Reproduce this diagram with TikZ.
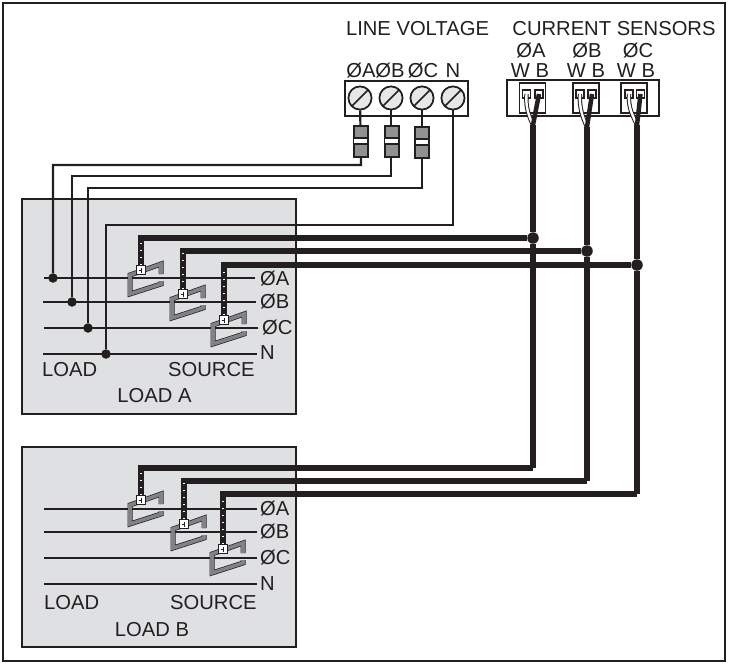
\documentclass[tikz,border=0pt]{standalone}
\usepackage{fontspec}
\setmainfont{Liberation Sans}
\definecolor{ink}{HTML}{231F20}
\definecolor{boxgray}{HTML}{DFE0E2}
\definecolor{screwgray}{HTML}{E6E7E8}
\definecolor{fusegray}{HTML}{8F9193}
\definecolor{clampgray}{HTML}{808285}
\tikzstyle{frame}=[draw=ink,fill=white,line width=2.5pt,inner sep=0pt]
\tikzstyle{loadbox}=[draw=ink,fill=boxgray,line width=2pt,inner sep=0pt]
\tikzstyle{block}=[draw=ink,fill=white,line width=1.8pt,inner sep=0pt]
\tikzstyle{label}=[inner sep=0pt,text=ink,font=\fontsize{20.2}{22}\selectfont]
\tikzstyle{screw}=[circle,draw=ink,fill=screwgray,line width=1.6pt,minimum size=23pt,inner sep=0pt,
    path picture={\draw[ink,line width=1.6pt] (path picture bounding box.south west)--(path picture bounding box.north east);}]
\tikzstyle{fuse}=[draw=ink,fill=fusegray,line width=2pt,minimum width=14pt,minimum height=31pt,inner sep=0pt]
\tikzstyle{fuseband}=[draw=ink,fill=white,line width=1.8pt,minimum width=14pt,minimum height=6.5pt,inner sep=0pt]
\tikzstyle{wire}=[ink,line width=2.2pt]
\tikzstyle{phase}=[ink,line width=2.4pt]
\tikzstyle{cable}=[ink,line width=6.8pt]
\tikzstyle{dot}=[circle,fill=ink,minimum size=9.5pt,inner sep=0pt]
\tikzstyle{socket}=[draw=ink,fill=white,line width=1.5pt,inner sep=0pt]
\tikzstyle{pin}=[draw=ink,fill=white,line width=1.5pt,minimum size=8pt,inner sep=0pt]
\tikzstyle{ctterm}=[draw=ink,fill=white,line width=.9pt,minimum size=8.5pt,inner sep=0pt]
\tikzstyle{ctframe}=[draw=ink,double=clampgray,double distance=3.6pt,line width=.7pt]
\tikzstyle{twist}=[white,line width=2pt,dash pattern=on 1pt off 6pt]
% clamp around a phase line, #1 names its terminal
\newcommand{\ctclamp}[2]{
    \begin{scope}[shift={(#2)}]
        \draw[ctframe] (20,4) -- (20,-6) -- (-11,5) -- (-11,24) -- (20,14) -- (20,11);
    \end{scope}
    \node[ctterm] (#1) at (#2) {};
}
% mark on a terminal
\newcommand{\ctmark}[1]{
    \node[ctterm] at (#1) {};
    \draw[ink,line width=1pt] (#1.center) ++(.5,-2.5) -- ++(0,5) (#1.center) ++(-2.2,0) -- ++(2.5,0);
}
% sensor leads, #1 white pin, #2 black pin, #3 joint
\newcommand{\leads}[3]{
    \draw[ink,line width=4.4pt] (#1.center) .. controls +(-1,14) and +(-4,-9) .. (#3);
    \draw[white,line width=2.4pt] (#1.center) .. controls +(-1,14) and +(-4,-9) .. (#3);
    \draw[ink,line width=4.5pt] (#2.center) -- (#3);
}

\begin{document}
\begin{tikzpicture}[x=1pt,y=-1pt]
    \useasboundingbox (0,0) rectangle (730,665);
    \node[frame,minimum width=722pt,minimum height=658pt] (border) at (364,332) {};
    \node[loadbox,minimum width=274pt,minimum height=215pt] (loada) at (159,306.5) {};
    \node[loadbox,minimum width=274pt,minimum height=200pt] (loadb) at (159,547) {};

    % terminal blocks
    \node[block,minimum width=123pt,minimum height=35pt] (volt) at (406.5,98.5) {};
    \node[block,minimum width=152pt,minimum height=36pt] (sens) at (583,98) {};

    \node[label] (tline) at (417.5,29) {LINE VOLTAGE};
    \node[label] (tsens) at (614,29) {CURRENT SENSORS};
    \node[label] (la) at (361,70.5) {ØA};
    \node[label] (lb) at (390,70.5) {ØB};
    \node[label] (lc) at (423,70.5) {ØC};
    \node[label] (ln) at (453,70.5) {N};
    \node[label] (sa) at (531,50.5) {ØA};
    \node[label] (sb) at (587,50.5) {ØB};
    \node[label] (sc) at (638,50.5) {ØC};
    \node[label] (wa) at (530,70.5) {W B};
    \node[label] (wb) at (586,70.5) {W B};
    \node[label] (wc) at (636,70.5) {W B};

    % voltage wiring
    \node[dot] (d0) at (53,278)  {};
    \node[dot] (d1) at (72,302)  {};
    \node[dot] (d2) at (88,328)  {};
    \node[dot] (d3) at (106,354) {};

    \coordinate (a0) at (44,278);
    \coordinate (a1) at (255,278);
    \coordinate (b0) at (43,302);
    \coordinate (b1) at (256,302);
    \coordinate (c0) at (44,328);
    \coordinate (c1) at (258,328);
    \coordinate (n0) at (43,354);
    \coordinate (n1) at (257,354);
    \draw[phase] (a0)--(a1);
    \draw[phase] (b0)--(b1);
    \draw[phase] (c0)--(c1);
    \draw[phase] (n0)--(n1);

    \node[screw] (s0) at (360,98) {};
    \node[screw] (s1) at (391,98) {};
    \node[screw] (s2) at (422,98) {};
    \node[screw] (s3) at (453,98) {};

    \coordinate (k0) at (361,165);
    \coordinate (k1) at (391,176);
    \coordinate (k2) at (422,188);
    \coordinate (k3) at (453,225);
    \draw[wire] (s0)--(k0)-|(d0);
    \draw[wire] (s1)--(k1)-|(d1);
    \draw[wire] (s2)--(k2)-|(d2);
    \draw[ink,line width=1.6pt] (s3)--(k3)-|(d3);
    \node[screw] at (s0) {};
    \node[screw] at (s1) {};
    \node[screw] at (s2) {};
    \node[screw] at (s3) {};

    \node[fuse] (f0) at (360.5,141) {};
    \node[fuse] (f1) at (391.5,141) {};
    \node[fuse] (f2) at (422,142)   {};
    \node[fuseband] (g0) at (f0) {};
    \node[fuseband] (g1) at (f1) {};
    \node[fuseband] (g2) at (f2) {};

    % load A
    \node[label,anchor=west] (pa) at (260,279) {ØA};
    \node[label,anchor=west] (pb) at (260,302) {ØB};
    \node[label,anchor=west] (pc) at (262,328) {ØC};
    \node[label,anchor=west] (pn) at (260,353) {N};
    \node[label,anchor=west] (pl) at (42,370)  {LOAD};
    \node[label,anchor=west] (ps) at (168,370) {SOURCE};
    \node[label] (pt) at (154.5,396) {LOAD A};

    \ctclamp{ta}{141,270}
    \ctclamp{tb}{183,294}
    \ctclamp{tc}{224,320}

    % load B
    \coordinate (e0) at (44,509);
    \coordinate (e1) at (257,509);
    \coordinate (h0) at (44,532);
    \coordinate (h1) at (257,532);
    \coordinate (i0) at (44,558);
    \coordinate (i1) at (257,558);
    \coordinate (j0) at (44,584);
    \coordinate (j1) at (257,584);
    \draw[phase] (e0)--(e1);
    \draw[phase] (h0)--(h1);
    \draw[phase] (i0)--(i1);
    \draw[phase] (j0)--(j1);

    \node[label,anchor=west] (qa) at (260,509) {ØA};
    \node[label,anchor=west] (qb) at (260,532) {ØB};
    \node[label,anchor=west] (qc) at (260,558) {ØC};
    \node[label,anchor=west] (qn) at (260,584) {N};
    \node[label,anchor=west] (ql) at (44,603)  {LOAD};
    \node[label,anchor=west] (qs) at (170,603) {SOURCE};
    \node[label] (qt) at (152,630) {LOAD B};

    \ctclamp{ua}{141,500}
    \ctclamp{ub}{184,524}
    \ctclamp{uc}{223,549}

    % sensor sockets
    \node[socket,minimum width=26pt,minimum height=30pt] (ka) at (532.5,98) {};
    \node[socket,minimum width=26pt,minimum height=30pt] (kb) at (586,98) {};
    \node[socket,minimum width=26pt,minimum height=30pt] (kc) at (634,98) {};
    \node[pin] (wpa) at (526.5,94) {};
    \node[pin] (bpa) at (539,94) {};
    \node[pin] (wpb) at (580,94) {};
    \node[pin] (bpb) at (592,94) {};
    \node[pin] (wpc) at (629,94) {};
    \node[pin] (bpc) at (640.5,94) {};
    \coordinate (ja) at (533,125);
    \coordinate (jb) at (587,127);
    \coordinate (jc) at (637,125);
    \leads{wpa}{bpa}{ja}
    \leads{wpb}{bpb}{jb}
    \leads{wpc}{bpc}{jc}

    % sensor cables
    \node[dot,minimum size=11.5pt] (xa) at (533,238) {};
    \node[dot,minimum size=11.5pt] (xb) at (587,251) {};
    \node[dot,minimum size=11.5pt] (xc) at (637,265) {};
    \coordinate (ya) at (533,468);
    \coordinate (yb) at (587,481);
    \coordinate (yc) at (637,494);
    \draw[cable] (ja)--(xa)--(ya);
    \draw[cable] (jb)--(xb)--(yb);
    \draw[cable] (jc)--(xc)--(yc);
    \draw[cable] (ta.north)|-(xa);
    \draw[cable] (tb.north)|-(xb);
    \draw[cable] (tc.north)|-(xc);
    \draw[cable] (ua.north)|-(ya);
    \draw[cable] (ub.north)|-(yb);
    \draw[cable] (uc.north)|-(yc);
    \draw[twist] (ta.north)--++(0,-22);
    \draw[twist] (tb.north)--++(0,-36);
    \draw[twist] (tc.north)--++(0,-48);
    \draw[twist] (ua.north)--++(0,-22);
    \draw[twist] (ub.north)--++(0,-36);
    \draw[twist] (uc.north)--++(0,-48);
    % terminals over the cable ends
    \ctmark{ta}
    \ctmark{tb}
    \ctmark{tc}
    \ctmark{ua}
    \ctmark{ub}
    \ctmark{uc}
\end{tikzpicture}
\end{document}
